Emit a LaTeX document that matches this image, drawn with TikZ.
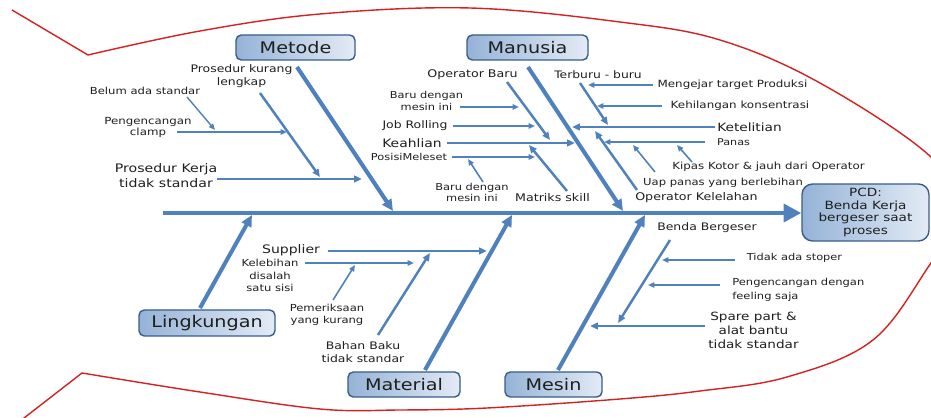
\documentclass[tikz,border=0pt]{standalone}
\usepackage{fontspec}
\setmainfont{DejaVu Sans}[FakeStretch=1.2]
\usepackage{tikz}
\usetikzlibrary{arrows.meta}
\definecolor{bonecol}{HTML}{4F81BD}
\definecolor{boxline}{HTML}{385D8A}
\definecolor{boxdark}{HTML}{95B3D7}
\definecolor{boxlight}{HTML}{E3EBF5}
\definecolor{fishcol}{HTML}{D42222}

\begin{document}
\begin{tikzpicture}[x=0.02cm,y=-0.02cm,
	lbl/.style args={#1/#2}{inner sep=0pt,text=black!88,font=\fontsize{#1}{#2}\selectfont},
	cat/.style={draw=boxline,line width=0.8pt,rounded corners=3pt,left color=boxdark,right color=boxlight,minimum height=0.5cm,inner sep=1pt,text=black!88,font=\fontsize{9.1}{11}\selectfont},
	fishline/.style={draw=fishcol,line width=0.8pt},
	spine/.style={draw=bonecol,line width=2.5pt,-{Triangle[length=10pt,width=10pt]}},
	bone/.style={draw=bonecol,line width=2.3pt,-{Triangle[length=6.5pt,width=6pt]}},
	twig/.style={draw=bonecol,line width=1.4pt,-{Triangle[length=4.5pt,width=3.8pt]}},
	leaf/.style={draw=bonecol,line width=0.9pt,-{Triangle[length=3.6pt,width=3pt]}}]
		\useasboundingbox (0,0) rectangle (931,418);
		\fill[white] (0,0) rectangle (931,418);
		\clip (0,0) rectangle (931,418);
		\draw[fishline] (12,10) -- (88,55);
		\draw[fishline] plot[smooth,tension=0.6] coordinates {(88,55) (200,31) (320,14) (470,8) (620,22) (720,40) (820,83) (931,157) (962,215) (931,263) (873,340) (787,377) (700,391) (620,399) (487,408) (400,410) (320,409) (200,392) (82,373)};
		\draw[fishline] (82,373) -- (15,425);

		\node[cat,minimum width=2.38cm] (met) at (295.5,47.5) {Metode};
		\node[cat,minimum width=2.42cm] (man) at (527.5,47.5) {Manusia};
		\node[cat,minimum width=2.72cm,minimum height=0.52cm] (lin) at (207,323) {Lingkungan};
		\node[cat,minimum width=2.24cm] (mat) at (404,384.5) {Material};
		\node[cat,minimum width=1.94cm] (mes) at (553.5,384.5) {Mesin};
		\node[cat,rounded corners=6pt,minimum width=2.54cm,minimum height=1.14cm,lbl=6.45/7.2,align=center] (pcd) at (865.5,212.5) {PCD:\\Benda Kerja\\bergeser saat\\proses};

		\coordinate (sp) at (163,213);
		\coordinate (mt0) at (297,67);
		\coordinate (mt1) at (393,211);
		\coordinate (mn0) at (528,67);
		\coordinate (mn1) at (623,211);
		\coordinate (lg0) at (200,308);
		\coordinate (lg1) at (252,215);
		\coordinate (ma0) at (425,370);
		\coordinate (ma1) at (512,215);
		\coordinate (ms0) at (558,370);
		\coordinate (ms1) at (645,215);
		\draw[spine] (sp) -- (sp -| pcd.west);
		\draw[bone] (mt0) -- (mt1);
		\draw[bone] (mn0) -- (mn1);
		\draw[bone] (lg0) -- (lg1);
		\draw[bone] (ma0) -- (ma1);
		\draw[bone] (ms0) -- (ms1);

		\node[lbl=5.9/7.4,align=center] (pkl) at (241.5,76.5) {Prosedur kurang\\lengkap};
		\node[lbl=6.7/8.5,align=center] (pkt) at (166,175.5) {Prosedur Kerja\\tidak standar};
		\node[lbl=5.5/6.6] (bas) at (145,91) {Belum ada standar};
		\node[lbl=5.6/6.2,align=center] (pcl) at (148,127.5) {Pengencangan\\clamp};
		\coordinate (a1) at (260,93);
		\coordinate (a2) at (320,177);
		\coordinate (a3) at (217,179);
		\coordinate (a4) at (362,179);
		\coordinate (a5) at (177,132);
		\coordinate (a6) at (287,132);
		\coordinate (a7) at (187,97);
		\coordinate (a8) at (215,130);
		\draw[twig] (a1) -- (a2);
		\draw[twig] (a3) -- (a4);
		\draw[leaf] (a5) -- (a6);
		\draw[leaf,line width=0.8pt] (a7) -- (a8);

		\node[lbl=6.0/7.2] (opb) at (472.5,75) {Operator Baru};
		\node[lbl=5.4/6.8,align=center] (bdm) at (426.5,101) {Baru dengan\\mesin ini};
		\node[lbl=5.9/7] (jr) at (415,126) {Job Rolling};
		\node[lbl=6.6/8] (kea) at (412,143) {Keahlian};
		\node[lbl=5.4/6.5] (pm) at (409,157) {PosisiMeleset};
		\node[lbl=5.4/6.2,align=center] (bdn) at (472,192.5) {Baru dengan\\mesin ini};
		\node[lbl=6.0/7.2] (mtx) at (552.5,198) {Matriks skill};
		\node[lbl=5.85/7] (tbb) at (598,75) {Terburu - buru};
		\node[lbl=5.65/6.8] (mtp) at (732.5,85) {Mengejar target Produksi};
		\node[lbl=5.65/6.8] (khk) at (740,106) {Kehilangan konsentrasi};
		\node[lbl=6.5/7.8] (ktl) at (749.5,127) {Ketelitian};
		\node[lbl=5.3/6.4] (pns) at (733.5,142) {Panas};
		\node[lbl=5.6/6.7] (kpk) at (768.5,167) {Kipas Kotor \& jauh dari Operator};
		\node[lbl=5.5/6.6] (uap) at (723,183) {Uap panas yang berlebihan};
		\node[lbl=6.0/7.2] (okl) at (696.5,198) {Operator Kelelahan};
		\coordinate (b1) at (507,82);
		\coordinate (b2) at (550,140);
		\coordinate (b3) at (460,107);
		\coordinate (b4) at (519,107);
		\coordinate (b5) at (453,126);
		\coordinate (b6) at (535,126);
		\coordinate (b7) at (447,143);
		\coordinate (b8) at (575,143);
		\coordinate (b9) at (452,157);
		\coordinate (b10) at (535,157);
		\coordinate (b11) at (483,182);
		\coordinate (b12) at (468,159);
		\coordinate (b13) at (567,191);
		\coordinate (b14) at (529,145);
		\coordinate (b15) at (580,83);
		\coordinate (b16) at (608,125);
		\coordinate (b17) at (653,85);
		\coordinate (b18) at (588,85);
		\coordinate (b19) at (662,106);
		\coordinate (b20) at (597,106);
		\coordinate (b21) at (715,127);
		\coordinate (b22) at (572,127);
		\coordinate (b23) at (637,190);
		\coordinate (b24) at (595,131);
		\coordinate (b25) at (705,142);
		\coordinate (b26) at (604,142);
		\coordinate (b27) at (655,172);
		\coordinate (b28) at (633,145);
		\coordinate (b29) at (692,162);
		\coordinate (b30) at (677,145);
		\draw[twig] (b1) -- (b2);
		\draw[leaf] (b3) -- (b4);
		\draw[leaf] (b5) -- (b6);
		\draw[twig] (b7) -- (b8);
		\draw[leaf] (b9) -- (b10);
		\draw[leaf] (b11) -- (b12);
		\draw[twig] (b13) -- (b14);
		\draw[twig] (b15) -- (b16);
		\draw[leaf] (b17) -- (b18);
		\draw[leaf] (b19) -- (b20);
		\draw[twig,line width=1.6pt] (b21) -- (b22);
		\draw[twig] (b23) -- (b24);
		\draw[leaf,line width=1.1pt] (b25) -- (b26);
		\draw[leaf] (b27) -- (b28);
		\draw[leaf] (b29) -- (b30);

		\node[lbl=6.65/8] (sup) at (291,250) {Supplier};
		\node[lbl=5.5/7.1,align=center] (kbh) at (270,275.5) {Kelebihan\\disalah\\satu sisi};
		\node[lbl=5.5/6.8,align=center] (pmk) at (327,315) {Pemeriksaan\\yang kurang};
		\node[lbl=5.9/7.4,align=center] (bbk) at (363,352.5) {Bahan Baku\\tidak standar};
		\coordinate (c1) at (328,251);
		\coordinate (c2) at (487,251);
		\coordinate (c3) at (305,263);
		\coordinate (c4) at (414,263);
		\coordinate (c5) at (333,300);
		\coordinate (c6) at (355,265);
		\coordinate (c7) at (378,335);
		\coordinate (c8) at (430,253);
		\draw[twig] (c1) -- (c2);
		\draw[leaf] (c3) -- (c4);
		\draw[leaf] (c5) -- (c6);
		\draw[twig] (c7) -- (c8);

		\node[lbl=5.9/7.1] (bbg) at (707,228) {Benda Bergeser};
		\node[lbl=5.4/6.5] (tas) at (794.5,258) {Tidak ada stoper};
		\node[lbl=5.46/7.9,align=left,anchor=west] (pdf) at (732,290) {Pengencangan dengan\\feeling saja};
		\node[lbl=6.45/7.9,align=center] (spt) at (753.5,330) {Spare part \&\\alat bantu\\tidak standar};
		\coordinate (d1) at (670,240);
		\coordinate (d2) at (618,323);
		\coordinate (d3) at (735,260);
		\coordinate (d4) at (662,260);
		\coordinate (d5) at (720,285);
		\coordinate (d6) at (648,285);
		\coordinate (d7) at (705,326);
		\coordinate (d8) at (590,326);
		\draw[twig] (d1) -- (d2);
		\draw[leaf] (d3) -- (d4);
		\draw[leaf,line width=1.1pt] (d5) -- (d6);
		\draw[twig] (d7) -- (d8);
	\end{tikzpicture}
\end{document}
